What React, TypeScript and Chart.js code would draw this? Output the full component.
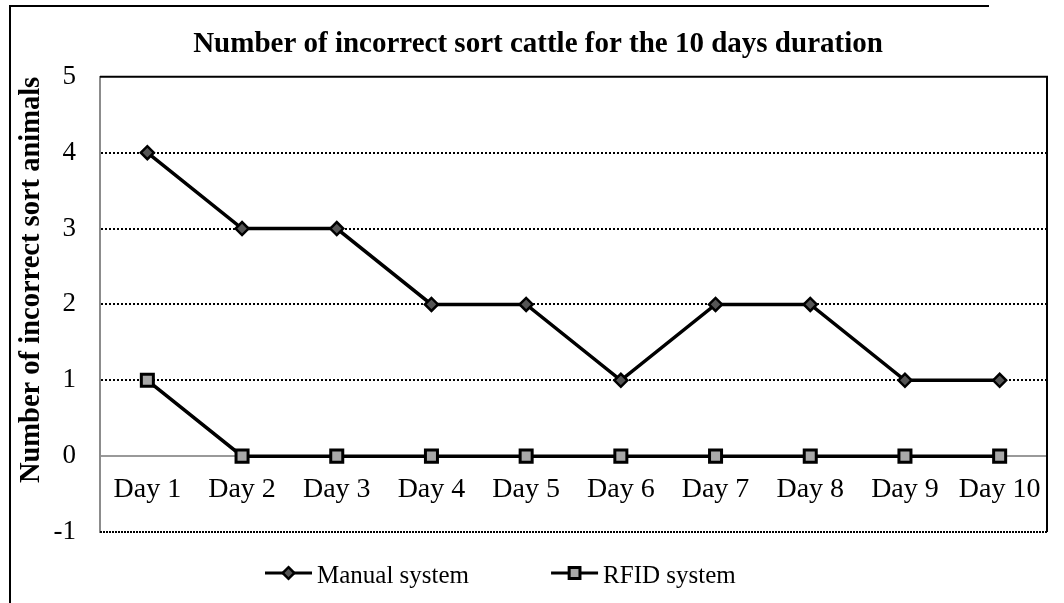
import React, { useEffect, useRef } from 'react';
import { Chart, registerables } from 'chart.js';

Chart.register(...registerables);

// ---------- data ----------
const categories = ['Day 1', 'Day 2', 'Day 3', 'Day 4', 'Day 5', 'Day 6', 'Day 7', 'Day 8', 'Day 9', 'Day 10'];
const manualValues = [4, 3, 3, 2, 2, 1, 2, 2, 1, 1];
const rfidValues = [1, 0, 0, 0, 0, 0, 0, 0, 0, 0];
const seriesNames = ['Manual system', 'RFID system'];
const yMin = -1;
const yMax = 5;
const yStep = 1;
const chartTitle = 'Number of incorrect sort cattle for the 10 days duration';
const yAxisTitle = 'Number of incorrect sort animals';

const FONT = '"Liberation Serif", "Times New Roman", serif';

function drawMarker(ctx: CanvasRenderingContext2D, style: string, cx: number, cy: number, r: number, fill: string, stroke: string, lw: number) {
  ctx.save();
  ctx.setLineDash([]);
  ctx.beginPath();
  if (style === 'rectRot') {
    ctx.moveTo(cx, cy - r);
    ctx.lineTo(cx + r, cy);
    ctx.lineTo(cx, cy + r);
    ctx.lineTo(cx - r, cy);
    ctx.closePath();
  } else {
    const h = r * Math.SQRT1_2;
    ctx.rect(cx - h, cy - h, 2 * h, 2 * h);
  }
  ctx.fillStyle = fill;
  ctx.fill();
  ctx.lineWidth = lw;
  ctx.strokeStyle = stroke;
  ctx.stroke();
  ctx.restore();
}

// plot frame (top / right solid, bottom dense dotted)
const plotFramePlugin = {
  id: 'plotFrame',
  beforeDatasetsDraw(chart: any) {
    const { ctx, chartArea } = chart;
    const { left, right, top, bottom } = chartArea;
    ctx.save();
    ctx.strokeStyle = '#000';
    ctx.lineWidth = 2;
    ctx.beginPath();
    ctx.moveTo(left, top);
    ctx.lineTo(right, top);
    ctx.lineTo(right, bottom);
    ctx.stroke();
    ctx.strokeStyle = '#000';
    ctx.setLineDash([2, 1]);
    ctx.beginPath();
    ctx.moveTo(left, bottom);
    ctx.lineTo(right, bottom);
    ctx.stroke();
    ctx.restore();
  },
};

// legend with line + marker samples
const lineLegendPlugin = {
  id: 'lineLegend',
  afterDraw(chart: any) {
    const { ctx, chartArea } = chart;
    const y = chartArea.bottom + 41;
    let x = chartArea.left + 165;
    ctx.save();
    ctx.font = `25px ${FONT}`;
    chart.data.datasets.forEach((ds: any) => {
      ctx.strokeStyle = '#000';
      ctx.lineWidth = 3;
      ctx.setLineDash([]);
      ctx.beginPath();
      ctx.moveTo(x, y);
      ctx.lineTo(x + 47, y);
      ctx.stroke();
      drawMarker(ctx, ds.pointStyle, x + 23.5, y, ds.pointRadius * 0.9, ds.pointBackgroundColor, ds.pointBorderColor, ds.pointBorderWidth);
      ctx.fillStyle = '#000';
      ctx.textAlign = 'left';
      ctx.textBaseline = 'alphabetic';
      ctx.fillText(ds.label, x + 52, y + 10);
      x += 52 + ctx.measureText(ds.label).width + 82;
    });
    ctx.restore();
  },
};

export default function App() {
  const ref = useRef<HTMLCanvasElement>(null);

  useEffect(() => {
    const edge = (v: any) => v === yMin || v === yMax || v === 0;
    const chart = new Chart(ref.current as HTMLCanvasElement, {
      type: 'line',
      data: {
        labels: categories,
        datasets: [
          {
            label: seriesNames[0],
            data: manualValues,
            borderColor: '#000',
            borderWidth: 3.5,
            tension: 0,
            pointStyle: 'rectRot',
            pointRadius: 6.5,
            pointBackgroundColor: '#555555',
            pointBorderColor: '#000',
            pointBorderWidth: 2.5,
          } as any,
          {
            label: seriesNames[1],
            data: rfidValues,
            borderColor: '#000',
            borderWidth: 3.5,
            tension: 0,
            pointStyle: 'rect',
            pointRadius: 8.5,
            pointBackgroundColor: '#a8a8a8',
            pointBorderColor: '#000',
            pointBorderWidth: 3,
          } as any,
        ],
      },
      options: {
        responsive: false,
        animation: false,
        devicePixelRatio: 1,
        layout: { padding: { left: 0, right: -12, top: 0, bottom: 71 } },
        plugins: {
          legend: { display: false },
          tooltip: { enabled: false },
          title: {
            display: true,
            text: chartTitle,
            color: '#000',
            font: { family: FONT, size: 29, weight: 'bold' },
            padding: { top: 27, bottom: 15 },
          },
        },
        scales: {
          x: {
            type: 'category',
            offset: true,
            position: { y: 0 } as any,
            grid: { display: false, drawTicks: false },
            border: { display: true, color: '#999999', width: 2 },
            ticks: {
              color: '#000',
              font: { family: FONT, size: 28 },
              padding: 17,
              maxRotation: 0,
              autoSkip: false,
            },
          },
          y: {
            type: 'linear',
            position: 'left',
            min: yMin,
            max: yMax,
            afterFit: (scale: any) => {
              scale.width = 100;
            },
            ticks: {
              stepSize: yStep,
              color: '#000',
              font: { family: FONT, size: 27 },
              padding: 24,
            },
            grid: {
              drawTicks: false,
              lineWidth: 2,
              color: (c: any) => (edge(c.tick && c.tick.value) ? 'rgba(0,0,0,0)' : '#000'),
            },
            border: { display: true, color: '#8c8c8c', width: 2, dash: [2, 2] },
            title: {
              display: true,
              text: yAxisTitle,
              align: 'end',
              color: '#000',
              font: { family: FONT, size: 28.5, weight: 'bold' },
              padding: { top: 15, bottom: 0 },
            },
          },
          yRight: {
            type: 'linear',
            position: 'right',
            display: true,
            afterFit: (scale: any) => {
              scale.width = 29;
            },
            ticks: { display: false },
            grid: { display: false, drawTicks: false },
            border: { display: false },
          },
        },
      } as any,
      plugins: [plotFramePlugin, lineLegendPlugin],
    });
    return () => chart.destroy();
  }, []);

  return (
    <div
      style={{
        position: 'fixed',
        left: 0,
        top: 0,
        width: 1064,
        height: 603,
        background: '#fff',
        overflow: 'hidden',
      }}
    >
      <canvas
        ref={ref}
        width={1064}
        height={603}
        style={{ position: 'absolute', left: 0, top: 0, width: 1064, height: 603 }}
      />
      <div style={{ position: 'absolute', left: 9, top: 5, width: 980, height: 2, background: '#000' }} />
      <div style={{ position: 'absolute', left: 9, top: 5, width: 2, height: 598, background: '#000' }} />
    </div>
  );
}
